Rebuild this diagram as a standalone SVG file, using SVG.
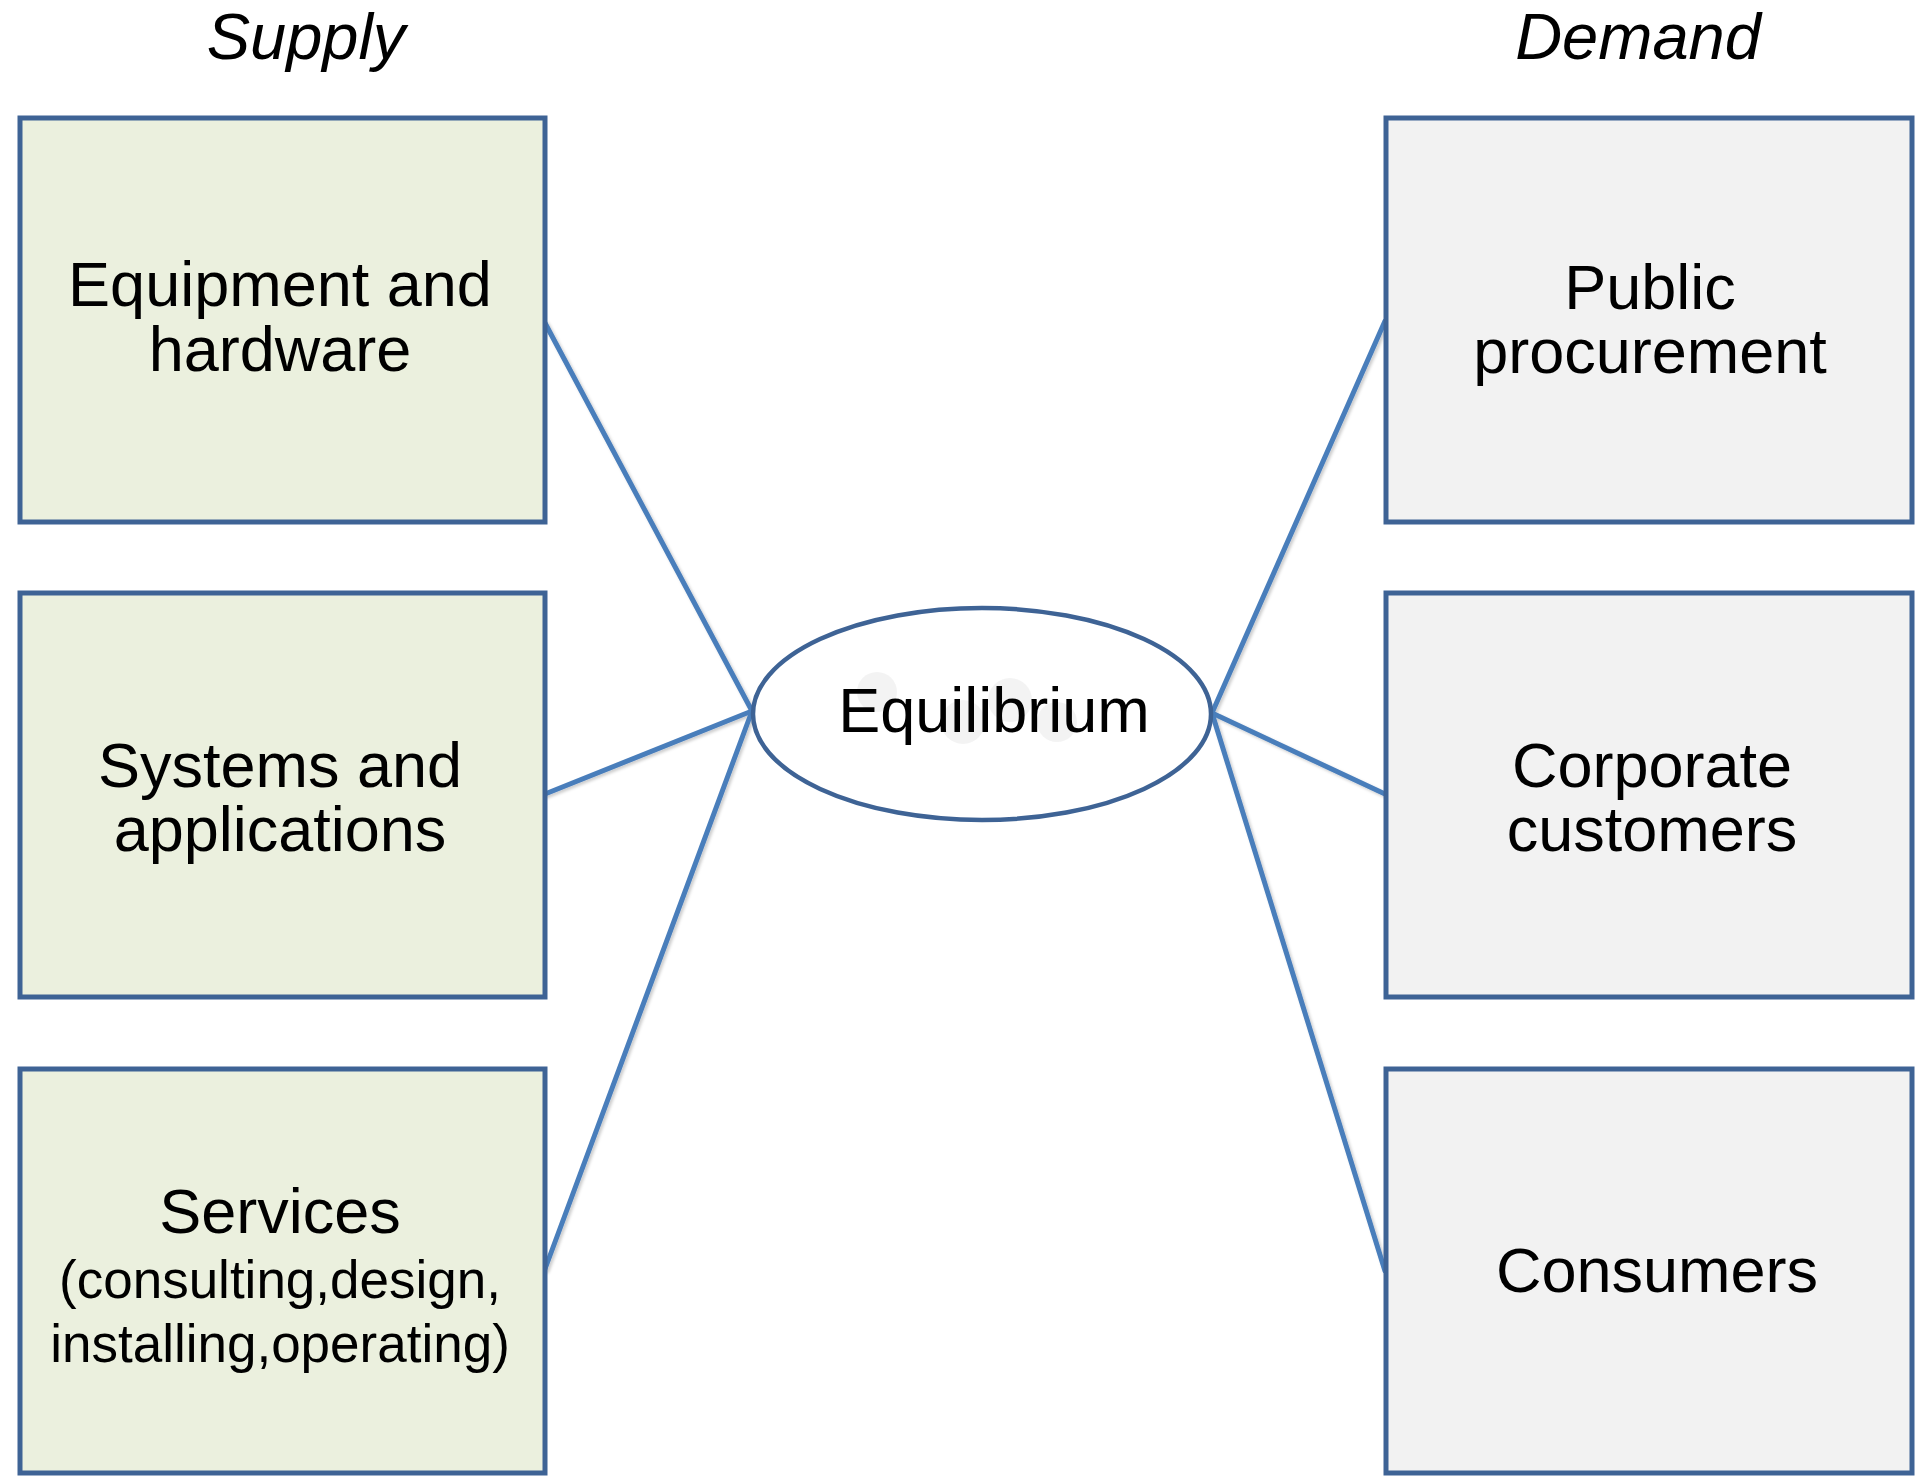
<svg xmlns="http://www.w3.org/2000/svg" width="1918" height="1477" viewBox="0 0 1918 1477">
<style>
  .box { stroke: #3e6395; stroke-width: 5; }
  .sup { fill: #ebf0de; }
  .dem { fill: #f2f2f2; }
  .t { font-family: "Liberation Sans", Arial, sans-serif; fill: #000; text-anchor: middle; font-size: 63px; }
  .s { font-size: 53px; }
  .h { font-family: "Liberation Sans", Arial, sans-serif; font-style: italic; font-size: 65px; fill: #000; text-anchor: middle; }
  .c { stroke: #4a7ebb; stroke-width: 5; fill: none; stroke-linecap: round; }
</style>
<defs>
  <filter id="sh" x="-10%" y="-10%" width="120%" height="120%">
    <feDropShadow dx="2" dy="2" stdDeviation="1.5" flood-color="#000" flood-opacity="0.2"/>
  </filter>
</defs>
<rect width="1918" height="1477" fill="#fff"/>
<text class="h" x="306" y="59">Supply</text>
<text class="h" x="1638" y="59">Demand</text>

<g id="connectors" filter="url(#sh)">
  <line class="c" x1="545" y1="323" x2="752" y2="711"/>
  <line class="c" x1="545" y1="794" x2="752" y2="711"/>
  <line class="c" x1="545" y1="1269" x2="752" y2="711"/>
  <line class="c" x1="1385" y1="321" x2="1212" y2="713"/>
  <line class="c" x1="1385" y1="794" x2="1212" y2="713"/>
  <line class="c" x1="1385" y1="1271" x2="1212" y2="713"/>
</g>

<g id="equipment">
  <rect class="box sup" x="20" y="118" width="525" height="404"/>
  <text class="t" x="280" y="306">Equipment and</text>
  <text class="t" x="280" y="371">hardware</text>
</g>
<g id="systems">
  <rect class="box sup" x="20" y="593" width="525" height="404"/>
  <text class="t" x="280" y="787">Systems and</text>
  <text class="t" x="280" y="851">applications</text>
</g>
<g id="services">
  <rect class="box sup" x="20" y="1069" width="525" height="404"/>
  <text class="t" x="280" y="1233">Services</text>
  <text class="t s" x="280" y="1298">(consulting,design,</text>
  <text class="t s" x="280" y="1362">installing,operating)</text>
</g>

<g id="public">
  <rect class="box dem" x="1386" y="118" width="526" height="404"/>
  <text class="t" x="1650" y="309">Public</text>
  <text class="t" x="1650" y="373">procurement</text>
</g>
<g id="corporate">
  <rect class="box dem" x="1386" y="593" width="526" height="404"/>
  <text class="t" x="1652" y="787">Corporate</text>
  <text class="t" x="1652" y="851">customers</text>
</g>
<g id="consumers">
  <rect class="box dem" x="1386" y="1069" width="526" height="404"/>
  <text class="t" x="1657" y="1292">Consumers</text>
</g>

<g id="equilibrium">
  <ellipse cx="982" cy="714" rx="229" ry="106" fill="#fff" stroke="#3e6395" stroke-width="4.5"/>
  <g fill="#e6e6e6" opacity="0.45">
    <circle cx="877" cy="692" r="20"/>
    <circle cx="963" cy="722" r="22"/>
    <circle cx="1010" cy="700" r="22"/>
    <circle cx="1057" cy="722" r="20"/>
  </g>
  <text class="t" x="994" y="732">Equilibrium</text>
</g>
</svg>
